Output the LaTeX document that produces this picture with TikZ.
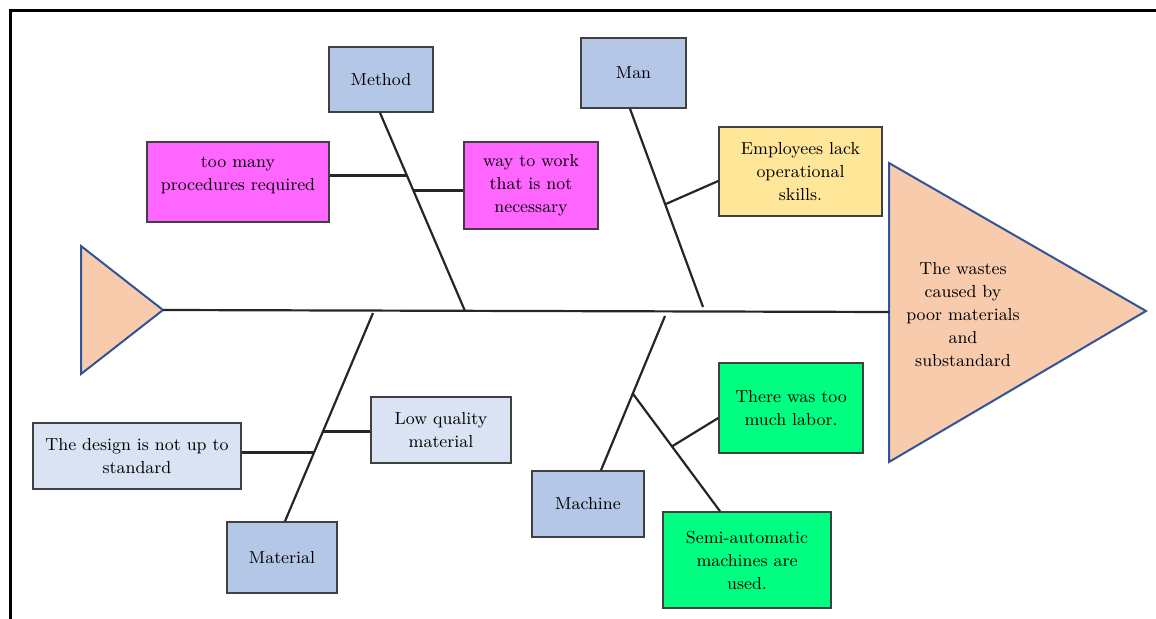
\documentclass[tikz,border=0pt]{standalone}
\usetikzlibrary{calc}
\definecolor{catblue}{HTML}{B4C7E7}
\definecolor{lightblue}{HTML}{DAE3F3}
\definecolor{magentabox}{HTML}{FF66FF}
\definecolor{yellowbox}{HTML}{FFE699}
\definecolor{greenbox}{HTML}{00FF80}
\definecolor{peach}{HTML}{F8CBAD}
\definecolor{triline}{HTML}{2F5597}
\definecolor{boxline}{HTML}{404040}
\begin{document}
\begin{tikzpicture}[x=0.5pt,y=-0.5pt,
  box/.style={draw=boxline, line width=0.75pt, inner sep=0pt, align=center,
    font=\fontsize{8.7}{11.5}\selectfont},
  txt/.style={inner sep=0pt, align=center, font=\fontsize{8.7}{11.5}\selectfont},
  bone/.style={draw=black!85, line width=1.1pt},
  frame/.style={draw=black, line width=1.5pt},
  fishtri/.style={draw=triline, fill=peach, line width=1pt, line join=miter}]
\useasboundingbox (0,0) rectangle (1156,619);
% frame
\coordinate (fa) at (1156,11);
\coordinate (fb) at (10,11);
\coordinate (fc) at (10,619);
\draw[frame] (fa) -- (fb) -- (fc);
% triangles
\coordinate (ht1) at (889,163);
\coordinate (ht2) at (1146,311);
\coordinate (ht3) at (889,462);
\draw[fishtri] (ht1) -- (ht2) -- (ht3) -- cycle;
\coordinate (tt1) at (81,246);
\coordinate (tt2) at (163,310);
\coordinate (tt3) at (81,374);
\draw[fishtri] (tt1) -- (tt2) -- (tt3) -- cycle;
\node[txt] (head) at (963,315) {The wastes\\caused by\\poor materials\\and\\substandard};
% spine
\coordinate (spineR) at (889,312);
\draw[bone] (tt2) -- (spineR);
% boxes
\node[box, fill=catblue, minimum width=52pt, minimum height=32.5pt] (method) at (381,79.5) {Method};
\node[box, fill=catblue, minimum width=52.5pt, minimum height=35pt] (man) at (633.5,73) {Man};
\node[box, fill=magentabox, minimum width=91pt, minimum height=40pt] (proc) at (238,182) {};
\node[txt] (proctext) at (238,175) {too many\\procedures required};
\node[box, fill=magentabox, minimum width=67pt, minimum height=43.5pt] (way) at (531,185.5) {way to work\\that is not\\necessary};
\node[box, fill=yellowbox, minimum width=81.5pt, minimum height=44.5pt] (emp) at (800.5,171.5) {Employees lack\\operational\\skills.};
\node[box, fill=lightblue, minimum width=104pt, minimum height=33pt] (design) at (137,456) {The design is not up to\\standard};
\node[box, fill=catblue, minimum width=55pt, minimum height=35.5pt] (material) at (282,557.5) {Material};
\node[box, fill=lightblue, minimum width=70pt, minimum height=33pt] (low) at (441,430) {Low quality\\material};
\node[box, fill=catblue, minimum width=56pt, minimum height=33pt] (machine) at (588,504) {Machine};
\node[box, fill=greenbox, minimum width=72pt, minimum height=45pt] (labor) at (791,408) {There was too\\much labor.};
\node[box, fill=greenbox, minimum width=84pt, minimum height=48pt] (semi) at (747,560) {Semi-automatic\\machines are\\used.};
% Method bone
\coordinate (m0) at ($(method.south)+(-1,0)$);
\coordinate (m1) at (465,311);
\draw[bone] (m0) -- (m1);
\coordinate (mp) at ($(m0)!0.3166!(m1)$);
\coordinate (mw) at ($(m0)!0.392!(m1)$);
\draw[bone] (proc.east |- mp) -- (mp);
\draw[bone] (mw) -- (way.west |- mw);
% Man bone
\coordinate (n0) at ($(man.south)+(-3.5,0)$);
\coordinate (n1) at (703,307);
\draw[bone] (n0) -- (n1);
\coordinate (ne) at ($(n0)!0.482!(n1)$);
\draw[bone] (ne) -- ($(emp.west)+(0,9.5)$);
% Material bone
\coordinate (r0) at ($(material.north)+(3,0)$);
\coordinate (r1) at (373,313);
\draw[bone] (r0) -- (r1);
\coordinate (rd) at ($(r0)!0.33!(r1)$);
\coordinate (rl) at ($(r0)!0.431!(r1)$);
\draw[bone] (design.east |- rd) -- (rd);
\draw[bone] (rl) -- (low.west |- rl);
% Machine bone
\coordinate (c0) at ($(machine.north)+(13,0)$);
\coordinate (c1) at (665,316);
\draw[bone] (c0) -- (c1);
\coordinate (cb) at ($(c0)!0.497!(c1)$);
\coordinate (cs) at ($(semi.north)+(-27,0)$);
\draw[bone] (cb) -- (cs);
\coordinate (cl) at ($(cb)!0.449!(cs)$);
\draw[bone] (cl) -- ($(labor.west)+(0,10)$);
\end{tikzpicture}
\end{document}
